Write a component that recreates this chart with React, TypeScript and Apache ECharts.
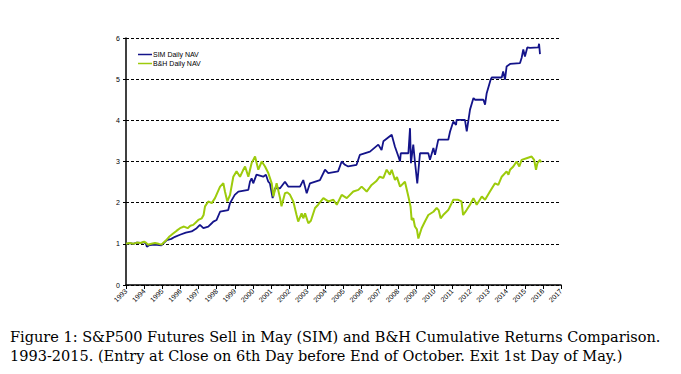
import React, { useEffect, useRef } from "react";
import * as echarts from "echarts";

const yearTicks = [1993, 2017];
const navTicks = [0, 6];

const bhYears = [1993.0,1993.2,1993.4,1993.6,1993.8,1994.0,1994.1,1994.2,1994.4,1994.6,1994.8,1994.95,1995.2,1995.4,1995.6,1995.8,1995.98,1996.2,1996.4,1996.55,1996.71,1996.85,1996.99,1997.18,1997.28,1997.36,1997.54,1997.73,1997.91,1998.05,1998.19,1998.37,1998.46,1998.59,1998.74,1998.92,1999.1,1999.29,1999.45,1999.57,1999.75,1999.93,2000.12,2000.3,2000.49,2000.67,2000.85,2001.04,2001.13,2001.31,2001.5,2001.58,2001.77,2001.9,2002.05,2002.23,2002.41,2002.5,2002.69,2002.78,2002.88,2003.06,2003.2,2003.43,2003.6,2003.89,2004.16,2004.44,2004.63,2004.9,2005.18,2005.54,2005.82,2006.0,2006.28,2006.55,2006.8,2007.0,2007.2,2007.38,2007.56,2007.66,2007.84,2007.95,2008.12,2008.39,2008.58,2008.7,2008.76,2008.85,2008.94,2009.05,2009.13,2009.31,2009.5,2009.68,2009.96,2010.14,2010.25,2010.36,2010.5,2010.78,2011.06,2011.33,2011.51,2011.6,2011.79,2011.98,2012.17,2012.35,2012.63,2012.81,2013.08,2013.36,2013.54,2013.73,2014.0,2014.1,2014.19,2014.37,2014.55,2014.7,2014.83,2015.1,2015.38,2015.52,2015.62,2015.7,2015.84,2015.9];
const bhNav = [1.00,1.02,1.00,1.03,1.02,1.05,1.03,0.98,1.00,1.02,1.00,0.98,1.08,1.18,1.25,1.32,1.38,1.42,1.38,1.44,1.46,1.52,1.58,1.62,1.70,1.91,2.03,1.99,2.11,2.25,2.39,2.47,2.27,2.03,2.19,2.63,2.76,2.63,2.78,2.88,2.63,2.96,3.12,2.80,3.00,2.88,2.72,2.47,2.15,2.47,2.11,1.91,2.23,2.25,2.19,2.03,1.70,1.54,1.74,1.62,1.74,1.50,1.56,1.87,1.95,2.11,2.03,2.07,1.95,2.19,2.11,2.27,2.31,2.39,2.27,2.43,2.52,2.63,2.60,2.80,2.68,2.80,2.55,2.62,2.39,2.51,2.15,1.90,1.58,1.62,1.42,1.35,1.13,1.38,1.55,1.70,1.78,1.87,1.82,1.62,1.70,1.82,2.07,2.07,2.03,1.70,1.82,1.95,2.11,1.95,2.15,2.07,2.27,2.47,2.43,2.63,2.76,2.68,2.80,2.88,3.00,2.88,3.04,3.08,3.12,3.04,2.80,2.96,3.04,2.98];

const simYears = [1993.0,1993.2,1993.4,1993.6,1993.8,1994.0,1994.1,1994.15,1994.3,1994.6,1994.95,1995.25,1995.5,1995.7,1995.98,1996.3,1996.62,1996.9,1997.08,1997.27,1997.54,1997.73,1997.82,1998.0,1998.19,1998.64,1998.74,1999.0,1999.2,1999.75,1999.84,1999.93,2000.02,2000.2,2000.57,2000.72,2000.85,2000.94,2001.09,2001.22,2001.5,2001.77,2001.95,2002.6,2002.78,2002.97,2003.15,2003.7,2003.98,2004.16,2004.7,2004.9,2005.08,2005.26,2005.72,2005.9,2006.46,2006.92,2007.1,2007.2,2007.66,2007.84,2008.03,2008.12,2008.16,2008.58,2008.67,2008.72,2008.85,2008.94,2009.07,2009.22,2009.68,2009.77,2009.96,2010.05,2010.23,2010.78,2010.88,2011.06,2011.21,2011.24,2011.7,2011.8,2011.98,2012.17,2012.26,2012.72,2012.81,2012.9,2013.12,2013.18,2013.73,2013.81,2013.91,2014.0,2014.19,2014.74,2014.83,2014.92,2015.01,2015.14,2015.29,2015.75,2015.79,2015.84];
const simNav = [1.00,1.02,1.00,1.03,1.02,1.04,1.00,0.93,0.97,0.98,0.96,1.09,1.12,1.17,1.22,1.27,1.30,1.38,1.46,1.38,1.42,1.50,1.54,1.58,1.78,1.82,1.99,2.19,2.27,2.31,2.51,2.59,2.47,2.68,2.63,2.68,2.51,2.47,2.11,2.35,2.35,2.51,2.39,2.39,2.55,2.23,2.47,2.55,2.80,2.72,2.76,3.00,2.92,2.88,2.92,3.16,3.24,3.41,3.28,3.49,3.65,3.36,3.12,3.00,3.20,3.20,3.81,2.96,3.41,3.00,2.47,3.20,3.20,3.04,3.33,3.16,3.53,3.53,3.73,3.97,3.89,4.01,4.01,3.73,4.26,4.54,4.50,4.50,4.38,4.66,4.99,5.04,5.04,5.19,4.99,5.31,5.37,5.39,5.52,5.72,5.55,5.77,5.76,5.77,5.86,5.61];

const captionLines = [
  "Figure 1: S&P500 Futures Sell in May (SIM) and B&H Cumulative Returns Comparison.",
  "1993-2015. (Entry at Close on 6th Day before End of October. Exit 1st Day of May.)",
];

export default function App() {
  const ref = useRef<HTMLDivElement>(null);
  useEffect(() => {
    if (!ref.current) return;
    const chart = echarts.init(ref.current, null, { renderer: "svg" });
    const sans = "Liberation Sans";
    chart.setOption({
      animation: false,
      backgroundColor: "#fff",
      grid: { left: 126, top: 38, width: 435, height: 247 },
      legend: {
        orient: "vertical",
        left: 133,
        top: 46,
        itemWidth: 14,
        itemHeight: 1.5,
        itemGap: 2,
        icon: "rect",
        textStyle: { fontFamily: sans, fontSize: 7, color: "#000", padding: [0, 0, 0, -4] },
        data: ["SIM Daily NAV", "B&H Daily NAV"],
      },
      xAxis: {
        type: "value",
        min: yearTicks[0],
        max: yearTicks[1],
        interval: 1,
        axisLine: { show: true, lineStyle: { color: "#000", width: 1.5 } },
        axisTick: { show: true, length: 4, lineStyle: { color: "#000" } },
        splitLine: { show: false },
        axisLabel: {
          rotate: 45,
          fontFamily: sans,
          fontSize: 7,
          color: "#000",
          margin: 5,
          formatter: (v: number) => String(Math.round(v)),
        },
      },
      yAxis: {
        type: "value",
        min: navTicks[0],
        max: navTicks[1],
        interval: 1,
        axisLine: { show: true, lineStyle: { color: "#000", width: 1.5 } },
        axisTick: { show: true, length: 3, lineStyle: { color: "#000" } },
        splitLine: { show: true, lineStyle: { color: "#000", type: [3, 2], width: 1 } },
        axisLabel: { fontFamily: sans, fontSize: 7, color: "#000", margin: 6 },
      },
      graphic: captionLines.map((t, i) => ({
        type: "text",
        left: 10,
        top: 329 + i * 19,
        style: { text: t, font: "14.5px 'DejaVu Serif'", fill: "#000" },
      })),
      series: [
        {
          name: "SIM Daily NAV",
          type: "line",
          showSymbol: false,
          data: simYears.map((y, i) => [y, simNav[i]]),
          lineStyle: { color: "#14148a", width: 1.8 },
          itemStyle: { color: "#14148a" },
        },
        {
          name: "B&H Daily NAV",
          type: "line",
          showSymbol: false,
          data: bhYears.map((y, i) => [y, bhNav[i]]),
          lineStyle: { color: "#9dcb0c", width: 2 },
          itemStyle: { color: "#9dcb0c" },
        },
      ],
    });
    return () => chart.dispose();
  }, []);
  return (
    <div
      ref={ref}
      style={{ position: "fixed", left: 0, top: 0, width: 681, height: 374, background: "#fff" }}
    />
  );
}
